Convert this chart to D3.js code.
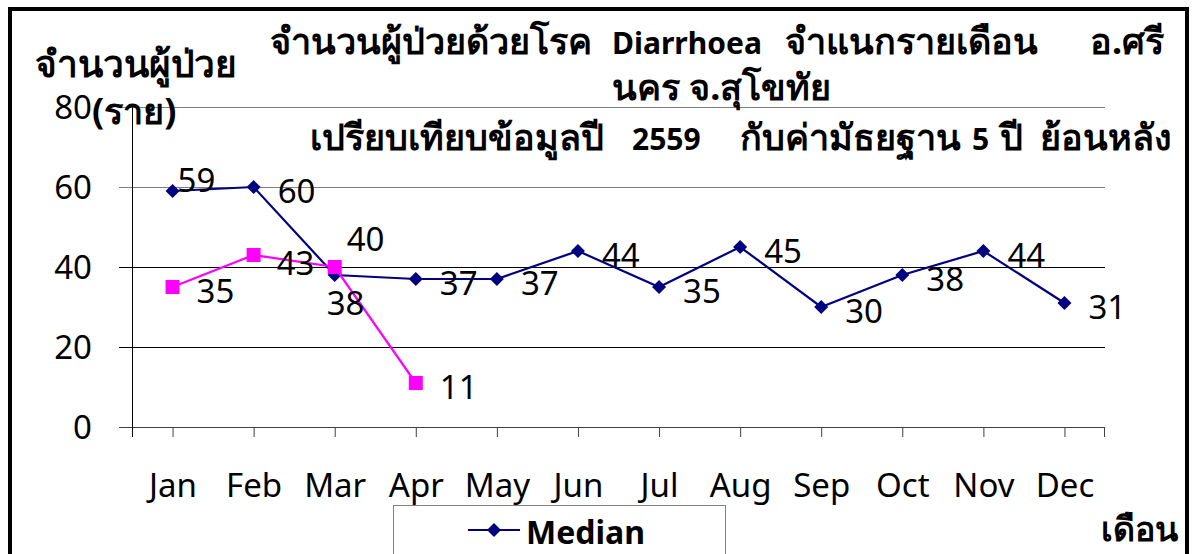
<!DOCTYPE html>
<html>
<head>
<meta charset="utf-8">
<script src="https://cdn.jsdelivr.net/npm/d3@7"></script>
<style>
  body { margin: 0; background: #fff; }
  svg { display: block; font-family: "Noto Sans", "Open Sans", sans-serif; }
</style>
</head>
<body>
<div id="chartContainer"></div>
<script>
const months = ["Jan", "Feb", "Mar", "Apr", "May", "Jun", "Jul", "Aug", "Sep", "Oct", "Nov", "Dec"];
const median = [59, 60, 38, 37, 37, 44, 35, 45, 30, 38, 44, 31];
const year2559 = [35, 43, 40, 11];
const yTicks = [0, 20, 40, 60, 80];

// title pieces: [text, start x, latin?]
const titleLine1 = [
  ["จำนวนผู้ป่วยด้วยโรค", 270, false],
  ["Diarrhoea", 612, true],
  ["จำแนกรายเดือน", 785, false],
  ["อ.ศรี", 1090, false]
];
const titleLine2 = [["นคร จ.สุโขทัย", 612, false]];
const titleLine3 = [
  ["เปรียบเทียบข้อมูลปี", 310, false],
  ["2559", 632, true],
  ["กับค่ามัธยฐาน", 740, false],
  ["5", 972, true],
  ["ปี", 1000, false],
  ["ย้อนหลัง", 1040, false]
];

// label nudges where Excel moved labels off the default spot
const medianNudge = { 0: [-19, -15], 2: [-32, 24] };
const y2559Nudge = { 1: [-1, 4], 2: [-12, -32] };

const W = 1193, H = 554;
const margin = { top: 107, right: 88, bottom: 127, left: 132 };
const width = W - margin.left - margin.right;
const height = H - margin.top - margin.bottom;

const svg = d3.select("#chartContainer")
  .append("svg")
  .attr("width", W)
  .attr("height", H);

const g = svg.append("g")
  .attr("transform", `translate(${margin.left}, ${margin.top})`);

const xScale = d3.scalePoint().domain(months).range([0, width]).padding(0.5);
const yScale = d3.scaleLinear().domain([0, 80]).range([height, 0]);

// gridlines
g.selectAll(".grid")
  .data(yTicks.filter(d => d > 0))
  .enter()
  .append("line")
  .attr("x1", -13)
  .attr("x2", width)
  .attr("y1", d => Math.round(yScale(d)) + 0.5)
  .attr("y2", d => Math.round(yScale(d)) + 0.5)
  .attr("stroke", d => d >= 60 ? "#808080" : "#000")
  .attr("stroke-width", 1);

// x axis
const xAxis = g.append("g")
  .attr("transform", `translate(0, ${height})`)
  .call(d3.axisBottom(xScale).tickSize(10).tickSizeOuter(0));
xAxis.select(".domain").remove();
xAxis.append("line")
  .attr("x1", -13).attr("x2", width)
  .attr("y1", 0.5).attr("y2", 0.5)
  .attr("stroke", "#404040");
xAxis.selectAll(".tick line").attr("stroke", "#404040");
xAxis.selectAll("text")
  .attr("y", 70)
  .attr("dy", 0)
  .attr("fill", "#000")
  .style("font-size", "33px")
  .style("font-family", "'Noto Sans', 'Open Sans', sans-serif");
xAxis.append("line")
  .attr("x1", width - 0.5).attr("x2", width - 0.5)
  .attr("y1", 0).attr("y2", 10)
  .attr("stroke", "#404040");

// y axis
g.append("line")
  .attr("x1", 0.5).attr("x2", 0.5)
  .attr("y1", 0).attr("y2", height + 10)
  .attr("stroke", "#000");
g.selectAll(".ylab")
  .data(yTicks)
  .enter()
  .append("text")
  .attr("x", -40)
  .attr("y", d => yScale(d) + 12)
  .attr("text-anchor", "end")
  .style("font-size", "33px")
  .text(d => d);

// lines
const line = d3.line()
  .x((d, i) => xScale(months[i]))
  .y(d => yScale(d));

g.append("path")
  .datum(median)
  .attr("d", line)
  .attr("fill", "none")
  .attr("stroke", "#000080")
  .attr("stroke-width", 2.2);

g.selectAll(".dia")
  .data(median)
  .enter()
  .append("path")
  .attr("transform", (d, i) => `translate(${xScale(months[i])}, ${yScale(d)})`)
  .attr("d", "M0,-7L7,0L0,7L-7,0Z")
  .attr("fill", "#000080");

g.append("path")
  .datum(year2559)
  .attr("d", line)
  .attr("fill", "none")
  .attr("stroke", "#ff00ff")
  .attr("stroke-width", 2.2);

g.selectAll(".sq")
  .data(year2559)
  .enter()
  .append("rect")
  .attr("x", (d, i) => xScale(months[i]) - 7)
  .attr("y", d => yScale(d) - 7)
  .attr("width", 14)
  .attr("height", 14)
  .attr("fill", "#ff00ff");

// data labels
function addLabels(values, nudge) {
  g.selectAll(null)
    .data(values)
    .enter()
    .append("text")
    .attr("x", (d, i) => xScale(months[i]) + 24 + (nudge[i] ? nudge[i][0] : 0))
    .attr("y", (d, i) => yScale(d) + 16 + (nudge[i] ? nudge[i][1] : 0))
    .style("font-size", "33px")
    .text(d => d);
}
addLabels(median, medianNudge);
addLabels(year2559, y2559Nudge);

// titles
function titleLine(pieces, y) {
  svg.selectAll(null)
    .data(pieces)
    .enter()
    .append("text")
    .attr("x", d => d[1])
    .attr("y", y)
    .style("font-weight", "bold")
    .style("font-size", d => d[2] ? "30px" : "36px")
    .text(d => d[0]);
}
titleLine(titleLine1, 54);
titleLine(titleLine2, 100);
titleLine(titleLine3, 150);

svg.append("text")
  .attr("x", 35).attr("y", 77)
  .style("font-weight", "bold")
  .style("font-size", "37px")
  .text("จำนวนผู้ป่วย");
svg.append("text")
  .attr("x", 92).attr("y", 124)
  .style("font-weight", "bold")
  .style("font-size", "36px")
  .text("(ราย)");

svg.append("text")
  .attr("x", 1178).attr("y", 541)
  .attr("text-anchor", "end")
  .style("font-weight", "bold")
  .style("font-size", "34px")
  .text("เดือน");

// legend
const legend = svg.append("g");
legend.append("rect")
  .attr("x", 393.5).attr("y", 505.5)
  .attr("width", 332).attr("height", 60)
  .attr("fill", "#fff")
  .attr("stroke", "#808080");
legend.append("line")
  .attr("x1", 468).attr("x2", 520)
  .attr("y1", 530).attr("y2", 530)
  .attr("stroke", "#000080")
  .attr("stroke-width", 2.2);
legend.append("path")
  .attr("transform", "translate(494, 530)")
  .attr("d", "M0,-7L7,0L0,7L-7,0Z")
  .attr("fill", "#000080");
legend.append("text")
  .attr("x", 526).attr("y", 544)
  .style("font-weight", "bold")
  .style("font-size", "32px")
  .text("Median");

// outer frame
svg.append("path")
  .attr("d", `M10,${H + 5}V9H1187V${H + 5}`)
  .attr("fill", "none")
  .attr("stroke", "#000")
  .attr("stroke-width", 4);
</script>
</body>
</html>
